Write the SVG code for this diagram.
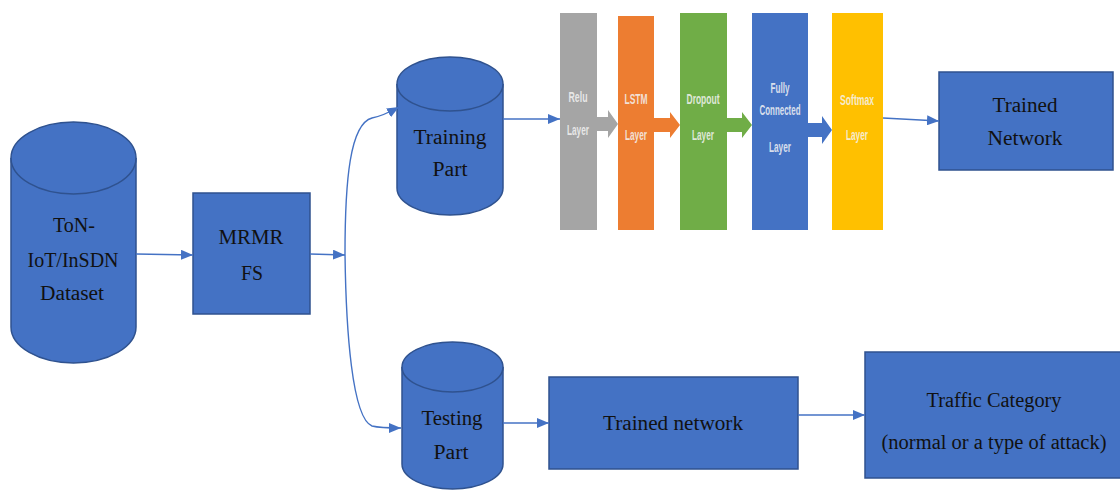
<svg xmlns="http://www.w3.org/2000/svg" width="1120" height="490" viewBox="0 0 1120 490">
  <style>
    .node { fill: #4472C4; stroke: #2F528F; stroke-width: 1.5; }
    .lbl { font-family: "Liberation Serif", "DejaVu Serif", serif; font-size: 20px; fill: #111; text-anchor: middle; dominant-baseline: central; }
    .lay { font-family: "Liberation Sans Narrow", "Liberation Sans", sans-serif; font-size: 14px; font-weight: bold; fill: #f4f4f4; fill-opacity: 0.85; text-anchor: middle; dominant-baseline: central; }
    .conn { fill: none; stroke: #4472C4; stroke-width: 1.4; }
  </style>
  <defs>
    <marker id="arr" viewBox="0 0 12 10" refX="12" refY="5" markerWidth="12" markerHeight="10" markerUnits="userSpaceOnUse" orient="auto">
      <path d="M0,0 L12,5 L0,10 Z" fill="#4472C4"/>
    </marker>
  </defs>
  <rect width="1120" height="490" fill="#fff"/>

  <!-- dataset cylinder -->
  <g id="dataset">
    <path class="node" d="M11,158 A62.5,36 0 0 1 136,158 L136,327 A62.5,36 0 0 1 11,327 Z"/>
    <path class="node" d="M11,158 A62.5,36 0 0 0 136,158"/>
    <text class="lbl" x="74" y="225" textLength="42" lengthAdjust="spacingAndGlyphs">ToN-</text>
    <text class="lbl" x="73" y="260" textLength="91" lengthAdjust="spacingAndGlyphs">IoT/InSDN</text>
    <text class="lbl" x="72" y="293" textLength="64" lengthAdjust="spacingAndGlyphs">Dataset</text>
  </g>

  <!-- feature selection -->
  <g id="mrmr">
    <rect class="node" x="193" y="193" width="117" height="121"/>
    <text class="lbl" x="251" y="237" textLength="65" lengthAdjust="spacingAndGlyphs">MRMR</text>
    <text class="lbl" x="252" y="273" textLength="22" lengthAdjust="spacingAndGlyphs">FS</text>
  </g>

  <!-- training split -->
  <g id="training">
    <path class="node" d="M397,84 A53,27 0 0 1 503,84 L503,188 A53,27 0 0 1 397,188 Z"/>
    <path class="node" d="M397,84 A53,27 0 0 0 503,84"/>
    <text class="lbl" x="450" y="137" textLength="73" lengthAdjust="spacingAndGlyphs">Training</text>
    <text class="lbl" x="450" y="169" textLength="35" lengthAdjust="spacingAndGlyphs">Part</text>
  </g>

  <!-- testing split -->
  <g id="testing">
    <path class="node" d="M402,367 A50.5,25 0 0 1 503,367 L503,464 A50.5,25 0 0 1 402,464 Z"/>
    <path class="node" d="M402,367 A50.5,25 0 0 0 503,367"/>
    <text class="lbl" x="452" y="418" textLength="61" lengthAdjust="spacingAndGlyphs">Testing</text>
    <text class="lbl" x="451" y="452" textLength="35" lengthAdjust="spacingAndGlyphs">Part</text>
  </g>

  <!-- network layers -->
  <g id="layers">
    <g id="relu">
      <rect x="560" y="13" width="37" height="217" fill="#A5A5A5"/>
      <text class="lay" x="578" y="97" textLength="19" lengthAdjust="spacingAndGlyphs">Relu</text>
      <text class="lay" x="578" y="130" textLength="22" lengthAdjust="spacingAndGlyphs">Layer</text>
    </g>
    <g id="lstm">
      <rect x="618" y="16" width="36" height="214" fill="#ED7D31"/>
      <text class="lay" x="636" y="99" textLength="23" lengthAdjust="spacingAndGlyphs">LSTM</text>
      <text class="lay" x="636" y="135" textLength="22" lengthAdjust="spacingAndGlyphs">Layer</text>
    </g>
    <g id="dropout">
      <rect x="680" y="13" width="47" height="217" fill="#70AD47"/>
      <text class="lay" x="703" y="99" textLength="33" lengthAdjust="spacingAndGlyphs">Dropout</text>
      <text class="lay" x="703" y="135" textLength="22" lengthAdjust="spacingAndGlyphs">Layer</text>
    </g>
    <g id="fully-connected">
      <rect x="752" y="13" width="56" height="217" fill="#4472C4"/>
      <text class="lay" x="780" y="88" textLength="19" lengthAdjust="spacingAndGlyphs">Fully</text>
      <text class="lay" x="780" y="110" textLength="41" lengthAdjust="spacingAndGlyphs">Connected</text>
      <text class="lay" x="780" y="147" textLength="22" lengthAdjust="spacingAndGlyphs">Layer</text>
    </g>
    <g id="softmax">
      <rect x="832" y="13" width="51" height="217" fill="#FFC000"/>
      <text class="lay" x="857" y="100" textLength="34" lengthAdjust="spacingAndGlyphs">Softmax</text>
      <text class="lay" x="857" y="135" textLength="22" lengthAdjust="spacingAndGlyphs">Layer</text>
    </g>
    <!-- block arrows between layers -->
    <path d="M597,117 L608,117 L608,110 L618,124 L608,138 L608,131 L597,131 Z" fill="#A5A5A5"/>
    <path d="M654,118 L670,118 L670,112 L680,125 L670,138 L670,132 L654,132 Z" fill="#ED7D31"/>
    <path d="M727,118 L742,118 L742,112 L752,125 L742,138 L742,132 L727,132 Z" fill="#70AD47"/>
    <path d="M808,123 L822,123 L822,116 L832,130 L822,144 L822,137 L808,137 Z" fill="#4472C4"/>
  </g>

  <g id="trained-network-top">
    <rect class="node" x="939" y="72" width="174" height="98"/>
    <text class="lbl" x="1025" y="105" textLength="65" lengthAdjust="spacingAndGlyphs">Trained</text>
    <text class="lbl" x="1025" y="138" textLength="75" lengthAdjust="spacingAndGlyphs">Network</text>
  </g>

  <g id="trained-network">
    <rect class="node" x="549" y="377" width="249" height="92"/>
    <text class="lbl" x="673" y="423" textLength="140" lengthAdjust="spacingAndGlyphs">Trained network</text>
  </g>

  <g id="traffic-category">
    <rect class="node" x="865" y="352" width="260" height="126"/>
    <text class="lbl" x="994" y="400" textLength="135" lengthAdjust="spacingAndGlyphs">Traffic Category</text>
    <text class="lbl" x="994" y="442" textLength="225" lengthAdjust="spacingAndGlyphs">(normal or a type of attack)</text>
  </g>

  <!-- connectors -->
  <g id="connectors">
    <path class="conn" d="M136,254 L193,255" marker-end="url(#arr)"/>
    <path class="conn" d="M310,254 L345,255" marker-end="url(#arr)"/>
    <path class="conn" d="M345,254 C345,180 350,124 372,118 C382,116 390,112 399,107" marker-end="url(#arr)"/>
    <path class="conn" d="M345,254 C346,330 352,418 372,426 C380,428 390,428 401,428" marker-end="url(#arr)"/>
    <path class="conn" d="M503,119 L560,119" marker-end="url(#arr)"/>
    <path class="conn" d="M883,118 L939,121" marker-end="url(#arr)"/>
    <path class="conn" d="M503,423 L549,423" marker-end="url(#arr)"/>
    <path class="conn" d="M798,415 L865,415" marker-end="url(#arr)"/>
  </g>
</svg>
